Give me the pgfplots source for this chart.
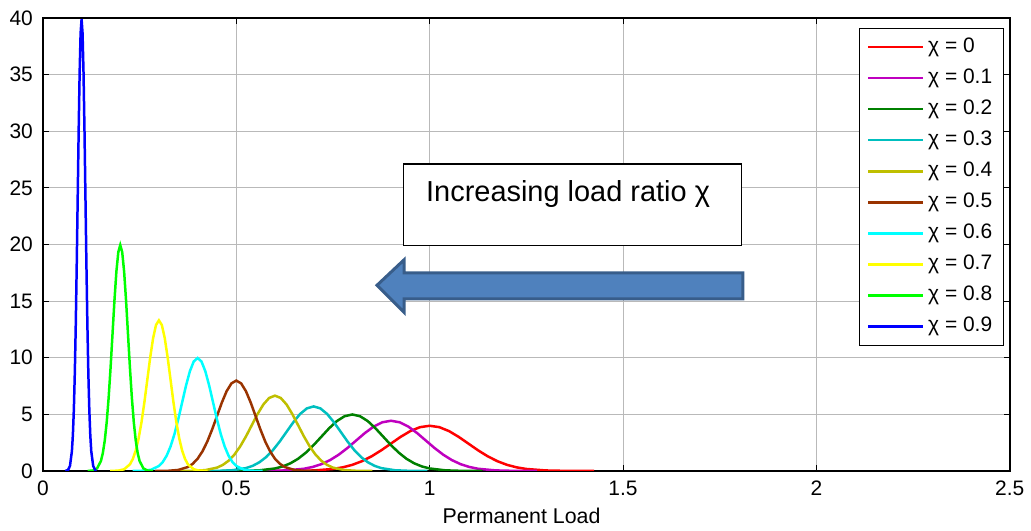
\documentclass[border=0pt]{standalone}
\usepackage{fontspec}
\setmainfont{Liberation Sans}
\usepackage{pgfplots}
\pgfplotsset{compat=1.18}

\definecolor{cRed}{rgb}{1,0,0}
\definecolor{cMag}{rgb}{0.75,0,0.75}
\definecolor{cDkGreen}{rgb}{0,0.5,0}
\definecolor{cTeal}{rgb}{0,0.75,0.75}
\definecolor{cOlive}{rgb}{0.75,0.75,0}
\definecolor{cBrown}{rgb}{0.6,0.2,0}
\definecolor{cCyan}{rgb}{0,1,1}
\definecolor{cYellow}{rgb}{1,1,0}
\definecolor{cGreen}{rgb}{0,1,0}
\definecolor{cBlue}{rgb}{0,0,1}
\definecolor{arrowFill}{HTML}{4F81BD}
\definecolor{arrowEdge}{HTML}{385D8A}

\begin{document}
\begin{tikzpicture}
\begin{axis}[
scale only axis,
width=484.5pt,height=227pt,
xmin=0,xmax=2.5,
ymin=0,ymax=40,
xtick={0,0.5,1,1.5,2,2.5},
ytick={0,5,10,15,20,25,30,35,40},
tick align=inside,
major tick length=3pt,
axis line style={line width=0.75pt},
tick style={black,line width=0.5pt},
grid=major,
major grid style={gray!55,line width=0.35pt},
/pgf/number format/assume math mode=true,
tick label style={font=\fontsize{10.5}{11}\selectfont},
xticklabel style={yshift=-1.5pt},
yticklabel style={xshift=-1.5pt},
xlabel={Permanent Load},
xlabel style={font=\fontsize{10.7}{12}\selectfont,at={(axis description cs:0.495,-0.1167)},anchor=base},
every axis plot/.append style={line width=1.25pt},
legend style={at={(0.9937,0.978)},anchor=north east,draw=black,line width=0.5pt,
  font=\fontsize{10.5}{11}\selectfont,cells={anchor=west},
  inner xsep=3.5pt,inner ysep=2.5pt,row sep=1.75pt,
  nodes={text height=7.5pt,text depth=2.3pt,inner sep=2pt}},
legend image code/.code={\draw[#1,line width=1.2pt] (0pt,0pt) -- (27.5pt,0pt);},
]

\addplot[color=cRed] coordinates {
(0.58,0)(0.65,0.0087)(0.70,0.0443)(0.75,0.1753)(0.775,0.3174)(0.80,0.5399)(0.825,0.8628)(0.85,1.2952)(0.875,1.8265)(0.90,2.4197)(0.925,3.0114)(0.95,3.5207)(0.975,3.8667)(1.00,3.9894)(1.025,3.8667)(1.05,3.5207)(1.075,3.0114)(1.10,2.4197)(1.125,1.8265)(1.15,1.2952)(1.175,0.8628)(1.20,0.5399)(1.225,0.3174)(1.25,0.1753)(1.30,0.0443)(1.35,0.0087)(1.425,0)
};
\addplot[color=cMag] coordinates {
(0.522,0)(0.585,0.0097)(0.63,0.0492)(0.675,0.1948)(0.6975,0.3527)(0.72,0.5999)(0.7425,0.9587)(0.765,1.4391)(0.7875,2.0294)(0.81,2.6886)(0.8325,3.3460)(0.855,3.9119)(0.8775,4.2963)(0.9,4.4327)(0.9225,4.2963)(0.945,3.9119)(0.9675,3.3460)(0.99,2.6886)(1.0125,2.0294)(1.035,1.4391)(1.0575,0.9587)(1.08,0.5999)(1.1025,0.3527)(1.125,0.1948)(1.17,0.0492)(1.215,0.0097)(1.278,0)
};
\addplot[color=cDkGreen] coordinates {
(0.464,0)(0.52,0.0109)(0.56,0.0554)(0.60,0.2191)(0.62,0.3968)(0.64,0.6749)(0.66,1.0785)(0.68,1.6190)(0.70,2.2831)(0.72,3.0246)(0.74,3.7643)(0.76,4.4009)(0.78,4.8334)(0.80,4.9868)(0.82,4.8334)(0.84,4.4009)(0.86,3.7643)(0.88,3.0246)(0.90,2.2831)(0.92,1.6190)(0.94,1.0785)(0.96,0.6749)(0.98,0.3968)(1.00,0.2191)(1.04,0.0554)(1.08,0.0109)(1.136,0)
};
\addplot[color=cTeal] coordinates {
(0.406,0)(0.455,0.0124)(0.49,0.0633)(0.525,0.2504)(0.5425,0.4534)(0.56,0.7713)(0.5775,1.2326)(0.595,1.8503)(0.6125,2.6093)(0.63,3.4567)(0.6475,4.3020)(0.665,5.0296)(0.6825,5.5239)(0.7,5.6991)(0.7175,5.5239)(0.735,5.0296)(0.7525,4.3020)(0.77,3.4567)(0.7875,2.6093)(0.805,1.8503)(0.8225,1.2326)(0.84,0.7713)(0.8575,0.4534)(0.875,0.2504)(0.91,0.0633)(0.945,0.0124)(0.994,0)
};
\addplot[color=cOlive] coordinates {
(0.348,0)(0.39,0.0145)(0.42,0.0738)(0.45,0.2922)(0.465,0.5290)(0.48,0.8998)(0.495,1.4380)(0.51,2.1587)(0.525,3.0442)(0.54,4.0328)(0.555,5.0190)(0.57,5.8678)(0.585,6.4445)(0.6,6.6490)(0.615,6.4445)(0.63,5.8678)(0.645,5.0190)(0.66,4.0328)(0.675,3.0442)(0.69,2.1587)(0.705,1.4380)(0.72,0.8998)(0.735,0.5290)(0.75,0.2922)(0.78,0.0738)(0.81,0.0145)(0.852,0)
};
\addplot[color=cBrown] coordinates {
(0.29,0)(0.325,0.0174)(0.35,0.0886)(0.375,0.3506)(0.3875,0.6348)(0.4,1.0798)(0.4125,1.7256)(0.425,2.5904)(0.4375,3.6530)(0.45,4.8394)(0.4625,6.0228)(0.475,7.0414)(0.4875,7.7334)(0.5,7.9788)(0.5125,7.7334)(0.525,7.0414)(0.5375,6.0228)(0.55,4.8394)(0.5625,3.6530)(0.575,2.5904)(0.5875,1.7256)(0.6,1.0798)(0.6125,0.6348)(0.625,0.3506)(0.65,0.0886)(0.675,0.0174)(0.71,0)
};
\addplot[color=cCyan] coordinates {
(0.232,0)(0.26,0.0218)(0.28,0.1108)(0.30,0.4383)(0.31,0.7935)(0.32,1.3498)(0.33,2.1570)(0.34,3.2380)(0.35,4.5663)(0.36,6.0493)(0.37,7.5285)(0.38,8.8018)(0.39,9.6668)(0.40,9.9735)(0.41,9.6668)(0.42,8.8018)(0.43,7.5285)(0.44,6.0493)(0.45,4.5663)(0.46,3.2380)(0.47,2.1570)(0.48,1.3498)(0.49,0.7935)(0.50,0.4383)(0.52,0.1108)(0.54,0.0218)(0.568,0)
};
\addplot[color=cYellow] coordinates {
(0.174,0)(0.195,0.0290)(0.21,0.1477)(0.225,0.5843)(0.2325,1.0580)(0.24,1.7997)(0.2475,2.8760)(0.255,4.3173)(0.2625,6.0883)(0.27,8.0657)(0.2775,10.038)(0.285,11.736)(0.2925,12.889)(0.3,13.298)(0.3075,12.889)(0.315,11.736)(0.3225,10.038)(0.33,8.0657)(0.3375,6.0883)(0.345,4.3173)(0.3525,2.8760)(0.36,1.7997)(0.3675,1.0580)(0.375,0.5843)(0.39,0.1477)(0.405,0.0290)(0.426,0)
};
\addplot[color=cGreen] coordinates {
(0.116,0)(0.13,0.0435)(0.14,0.2215)(0.15,0.8765)(0.155,1.587)(0.16,2.6995)(0.165,4.314)(0.17,6.476)(0.175,9.1325)(0.18,12.099)(0.185,15.057)(0.19,17.604)(0.195,19.334)(0.2,19.947)(0.205,19.334)(0.21,17.604)(0.215,15.057)(0.22,12.099)(0.225,9.1325)(0.23,6.476)(0.235,4.314)(0.24,2.6995)(0.245,1.587)(0.25,0.8765)(0.26,0.2215)(0.27,0.0435)(0.284,0)
};
\addplot[color=cBlue] coordinates {
(0.058,0)(0.065,0.087)(0.07,0.443)(0.075,1.753)(0.0775,3.174)(0.08,5.399)(0.0825,8.628)(0.085,12.952)(0.0875,18.265)(0.09,24.197)(0.0925,30.114)(0.095,35.207)(0.0975,38.667)(0.1,39.894)(0.1025,38.667)(0.105,35.207)(0.1075,30.114)(0.11,24.197)(0.1125,18.265)(0.115,12.952)(0.1175,8.628)(0.12,5.399)(0.1225,3.174)(0.125,1.753)(0.13,0.443)(0.135,0.087)(0.138,0)
};

% annotation box and arrow
\draw[black,line width=0.75pt,fill=white] (0.932,19.9) rectangle (1.806,27.1);
\node[anchor=base west,inner sep=0pt,font=\fontsize{14.5}{16}\selectfont] at (0.99,23.76) {Increasing load ratio χ};
\draw[arrowEdge,fill=arrowFill,line width=1.5pt,line join=miter]
  (0.864,16.4) -- (0.934,18.65) -- (0.934,17.5) -- (1.81,17.5) -- (1.81,15.2) -- (0.934,15.2) -- (0.934,14.0) -- cycle;

\legend{χ = 0,χ = 0.1,χ = 0.2,χ = 0.3,χ = 0.4,χ = 0.5,χ = 0.6,χ = 0.7,χ = 0.8,χ = 0.9}
\end{axis}
\path ([shift={(-21.5pt,-30pt)}]current axis.south west) rectangle ([shift={(9.5pt,9pt)}]current axis.north east);
\end{tikzpicture}
\end{document}
